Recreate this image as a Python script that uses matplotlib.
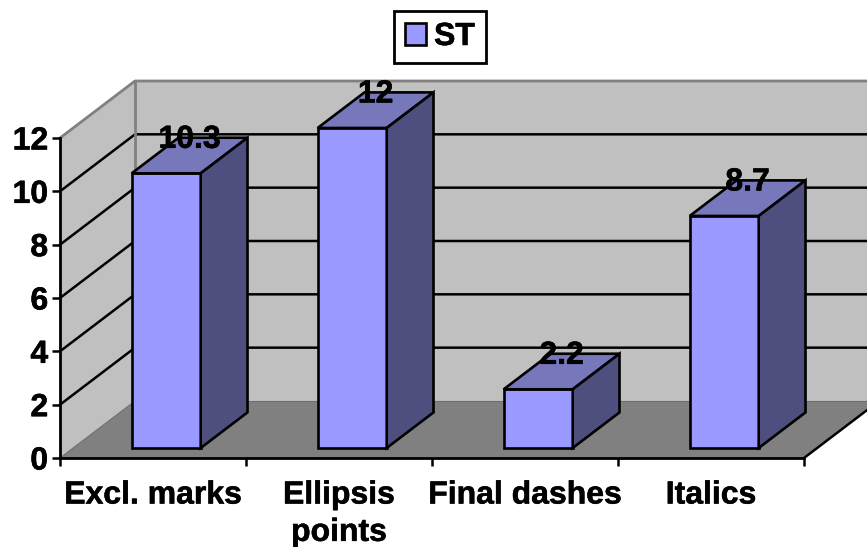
import matplotlib
matplotlib.use('Agg')
import matplotlib.pyplot as plt
import matplotlib.patheffects as pe
from matplotlib.patches import Polygon, Patch
from matplotlib.text import Text

plt.rcParams['font.family'] = ['Liberation Sans', 'DejaVu Sans']
plt.rcParams['font.weight'] = 'bold'

categories = ['Excl. marks', 'Ellipsis\npoints', 'Final dashes', 'Italics']
values = [10.3, 12, 2.2, 8.7]
value_labels = ['10.3', '12', '2.2', '8.7']
series_name = 'ST'
yticks = [0, 2, 4, 6, 8, 10, 12]

W, H = 867, 547
LEFT, RIGHT, BASE, TOP = 60, 804, 458, 138
FS = 23

# oblique offset of the back wall, in data units (75 px right, 57 px up)
DX = 75 / ((RIGHT - LEFT) / 4)
DY = 57 / ((BASE - TOP) / 12)

BAR_W = 0.371
D0, D1 = 0.176, 0.80  # front and back of the bars along the depth


def proj(x, v, d=0.0):
    return (x + d * DX, v + d * DY)


def face(ax, pts, color, edge='none', lw=0, z=1):
    ax.add_patch(Polygon([proj(*p) for p in pts], closed=True, facecolor=color,
                         edgecolor=edge, linewidth=lw, zorder=z, clip_on=False,
                         joinstyle='miter'))


fig = plt.figure(figsize=(W / 100, H / 100), dpi=100)
ax = fig.add_axes([LEFT / W, (H - BASE) / H, (RIGHT - LEFT) / W, (BASE - TOP) / H])
ax.set_xlim(0, 4)
ax.set_ylim(0, 12)
ax.patch.set_alpha(0)

# walls and floor
n = len(categories)
face(ax, [(0, 0, 1), (n, 0, 1), (n, 12, 1), (0, 12, 1)], '#c0c0c0')
face(ax, [(0, 0, 0), (0, 0, 1), (0, 12, 1), (0, 12, 0)], '#c0c0c0')
face(ax, [(0, 0, 0), (n, 0, 0), (n, 0, 1), (0, 0, 1)], '#808080', z=1.1)

# gridlines on side and back wall
for v in yticks[1:-1]:
    xs, ys = zip(proj(0, v, 0), proj(0, v, 1), proj(n, v, 1))
    ax.plot(xs, ys, color='black', lw=1.8, zorder=1.2, clip_on=False)

# grey wall outline
xs, ys = zip(proj(0, 12, 0), proj(0, 12, 1), proj(n, 12, 1))
ax.plot(xs, ys, color='#808080', lw=2, zorder=1.3, clip_on=False)
xs, ys = zip(proj(0, 0, 1), proj(0, 12, 1))
ax.plot(xs, ys, color='#808080', lw=2, zorder=1.3, clip_on=False)
xs, ys = zip(proj(0, 0, 1), proj(n, 0, 1))
ax.plot(xs, ys, color='#6e6e6e', lw=0.8, zorder=1.3, clip_on=False)
xs, ys = zip(proj(0, 0, 0), proj(0, 0, 1))
ax.plot(xs, ys, color='#6e6e6e', lw=0.8, zorder=1.3, clip_on=False)
xs, ys = zip(proj(n, 0, 0), proj(n, 0, 1))
ax.plot(xs, ys, color='black', lw=1.8, zorder=1.3, clip_on=False)

# the bars: front, top, side
for i, v in enumerate(values):
    x0 = i + 0.5 - BAR_W / 2
    x1 = i + 0.5 + BAR_W / 2
    face(ax, [(x0, 0, D0), (x1, 0, D0), (x1, v, D0), (x0, v, D0)], '#9999ff', 'black', 1.9, 2)
    face(ax, [(x0, v, D0), (x1, v, D0), (x1, v, D1), (x0, v, D1)], '#7777bb', 'black', 1.9, 2)
    face(ax, [(x1, 0, D0), (x1, 0, D1), (x1, v, D1), (x1, v, D0)], '#4f4f7f', 'black', 1.9, 2)
    lx = proj(i + 0.5, v, (D0 + D1) / 2)[0]
    ly = proj(i + 0.5, v, D1)[1]
    ax.annotate(value_labels[i], (lx, ly), xytext=(0, -1.5), textcoords='offset points',
                ha='center', va='center', fontsize=FS, fontweight='bold', color='black',
                zorder=5, annotation_clip=False)

# axes, ticks, labels
for s in ['top', 'right']:
    ax.spines[s].set_visible(False)
for s in ['left', 'bottom']:
    ax.spines[s].set_linewidth(2)
    ax.spines[s].set_zorder(3)
ax.set_yticks(yticks)
ax.tick_params(axis='y', length=5.5, width=1.8, labelsize=FS, pad=3)
ax.set_xticks(range(n + 1))
ax.set_xticklabels([])
ax.tick_params(axis='x', which='major', length=5.5, width=1.8)
ax.set_xticks([i + 0.5 for i in range(n)], minor=True)
ax.set_xticklabels(categories, minor=True, fontsize=FS, fontweight='bold', linespacing=1.32)
ax.tick_params(axis='x', which='minor', length=0, pad=16.2)
for lab in ax.get_yticklabels():
    lab.set_fontweight('bold')

leg = ax.legend(handles=[Patch(facecolor='#9999ff', edgecolor='black', linewidth=1.9, label=series_name)],
                loc='center', bbox_to_anchor=(440 / W, (H - 37) / H), bbox_transform=fig.transFigure,
                fontsize=FS, frameon=True, fancybox=False, framealpha=1, edgecolor='black',
                handlelength=0.66, handleheight=0.66, handletextpad=0.25, borderpad=0.35,
                borderaxespad=0)
leg.get_frame().set_linewidth(2)

# heavier bold strokes for all text
for t in fig.findobj(Text):
    t.set_path_effects([pe.withStroke(linewidth=0.4, foreground='black')])

fig.savefig('out.png', dpi=100)
